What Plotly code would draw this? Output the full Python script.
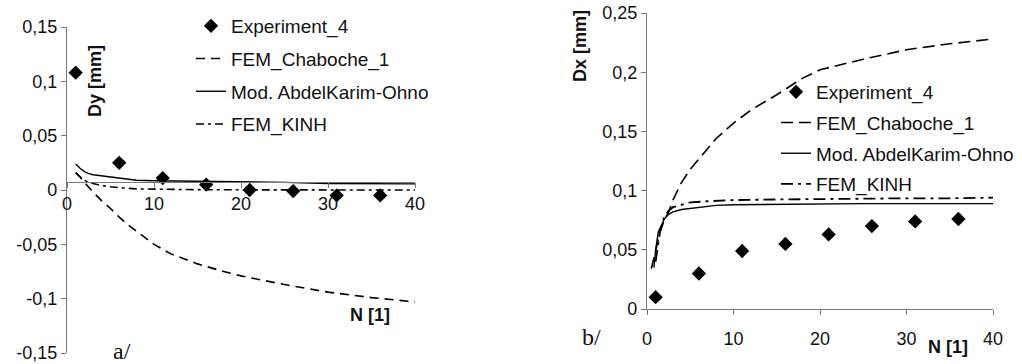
import plotly.graph_objects as go

# ---------------- data ----------------
# left panel (a/): Dy [mm] vs N
exp_n = [1, 6, 11, 16, 21, 26, 31, 36]
exp_dy = [0.108, 0.025, 0.011, 0.005, 0.0, -0.001, -0.005, -0.005]

fem_n = [1, 1.5, 2, 2.5, 3, 4, 5, 6, 7, 8, 10, 12, 15, 18, 20, 25, 30, 35, 40]
chab_dy = [0.016, 0.012, 0.007, 0.002, -0.002, -0.010, -0.017, -0.025, -0.032, -0.038,
           -0.050, -0.059, -0.068, -0.075, -0.079, -0.087, -0.094, -0.099, -0.103]
ako_dy = [0.024, 0.020, 0.017, 0.015, 0.014, 0.013, 0.012, 0.011, 0.0095, 0.009,
          0.0085, 0.0083, 0.008, 0.008, 0.0077, 0.007, 0.006, 0.0058, 0.0056]
kinh_dy = [0.016, 0.012, 0.009, 0.007, 0.006, 0.004, 0.003, 0.002, 0.0015, 0.001,
           0.0007, 0.0005, 0.0003, 0.0002, 0.0001, 0.0, 0.0, 0.0, 0.0]

# right panel (b/): Dx [mm] vs N
exp_dx = [0.010, 0.030, 0.049, 0.055, 0.063, 0.070, 0.074, 0.076]

chab_n = [0.5, 1, 1.5, 2, 2.5, 3, 4, 5, 6, 7, 8, 10, 12, 15, 18, 20, 25, 30, 35, 40]
chab_dx = [0.034, 0.050, 0.065, 0.075, 0.082, 0.092, 0.107, 0.118, 0.127, 0.136, 0.144,
           0.157, 0.168, 0.181, 0.195, 0.202, 0.211, 0.219, 0.224, 0.228]
ako_n = [0.8, 1, 1.3, 1.7, 2, 2.5, 3, 4, 5, 6, 7, 8, 10, 15, 20, 25, 30, 35, 40]
ako_dx = [0.035, 0.050, 0.065, 0.072, 0.076, 0.080, 0.082, 0.084, 0.085, 0.086, 0.087,
          0.0875, 0.088, 0.0885, 0.089, 0.089, 0.089, 0.089, 0.089]
kinh_n = [1, 1.5, 2, 2.5, 3, 4, 5, 7, 10, 15, 20, 25, 30, 35, 40]
kinh_dx = [0.040, 0.065, 0.078, 0.083, 0.086, 0.088, 0.090, 0.091, 0.092, 0.0925,
           0.093, 0.093, 0.0935, 0.0935, 0.094]

x_ticks = [0, 10, 20, 30, 40]
x_ticktext = ["0", "10", "20", "30", "40"]
dy_ticks = [-0.15, -0.1, -0.05, 0, 0.05, 0.1, 0.15]
dy_ticktext = ["-0,15", "-0,1", "-0,05", "0", "0,05", "0,1", "0,15"]
dx_ticks = [0, 0.05, 0.1, 0.15, 0.2, 0.25]
dx_ticktext = ["0", "0,05", "0,1", "0,15", "0,2", "0,25"]

names = ["Experiment_4", "FEM_Chaboche_1", "Mod. AbdelKarim-Ohno", "FEM_KINH"]

# ---------------- figure ----------------
W, H = 1022, 364
FONT = "Liberation Sans, Arial, sans-serif"
AX = "#7a7a7a"

def px(x):
    return x / W

def py(y):
    return 1 - y / H

fig = go.Figure()

# left
fig.add_trace(go.Scatter(x=exp_n, y=exp_dy, mode="markers", name=names[0],
                         marker=dict(symbol="diamond", size=11, color="black"),
                         xaxis="x", yaxis="y", legend="legend", legendgroup="a0"))
fig.add_trace(go.Scatter(x=fem_n, y=chab_dy, mode="lines", name=names[1],
                         line=dict(color="black", width=1.6, dash="9px,6px"),
                         xaxis="x", yaxis="y", legend="legend", legendgroup="a1"))
fig.add_trace(go.Scatter(x=fem_n, y=ako_dy, mode="lines", name=names[2],
                         line=dict(color="black", width=1.4),
                         xaxis="x", yaxis="y", legend="legend", legendgroup="a2"))
fig.add_trace(go.Scatter(x=fem_n, y=kinh_dy, mode="lines", name=names[3],
                         line=dict(color="black", width=1.6, dash="8px,4px,3px,4px"),
                         xaxis="x", yaxis="y", legend="legend", legendgroup="a3"))

# right
fig.add_trace(go.Scatter(x=exp_n, y=exp_dx, mode="markers", name=names[0],
                         marker=dict(symbol="diamond", size=11, color="black"),
                         xaxis="x2", yaxis="y2", legend="legend2", legendgroup="b0"))
fig.add_trace(go.Scatter(x=chab_n, y=chab_dx, mode="lines", name=names[1],
                         line=dict(color="black", width=1.6, dash="12px,6px"),
                         xaxis="x2", yaxis="y2", legend="legend2", legendgroup="b1"))
fig.add_trace(go.Scatter(x=ako_n, y=ako_dx, mode="lines", name=names[2],
                         line=dict(color="black", width=1.4),
                         xaxis="x2", yaxis="y2", legend="legend2", legendgroup="b2"))
fig.add_trace(go.Scatter(x=kinh_n, y=kinh_dx, mode="lines", name=names[3],
                         line=dict(color="black", width=1.8, dash="12px,5px,3px,5px"),
                         xaxis="x2", yaxis="y2", legend="legend2", legendgroup="b3"))

tickfont = dict(family=FONT, size=18, color="#111")
common = dict(showgrid=False, zeroline=False, showline=True, linecolor=AX, linewidth=1.2,
              ticks="outside", ticklen=5, tickcolor=AX, tickfont=tickfont, automargin=False,
              ticklabeloverflow="allow")

legfont = dict(family=FONT, size=19, color="#111")

fig.update_layout(
    width=W, height=H,
    margin=dict(l=0, r=0, t=0, b=0),
    paper_bgcolor="white", plot_bgcolor="white",
    xaxis=dict(domain=[px(67), px(415)], range=[0, 40], anchor="free", position=0.5,
               tickvals=x_ticks, ticktext=x_ticktext, **common),
    yaxis=dict(domain=[py(353), py(27)], range=[-0.15, 0.15], anchor="x",
               tickvals=dy_ticks, ticktext=dy_ticktext, **common),
    xaxis2=dict(domain=[px(647), px(993)], range=[0, 40], anchor="y2",
                tickvals=x_ticks, ticktext=x_ticktext, ticklabelstandoff=8, **common),
    yaxis2=dict(domain=[py(309), py(13)], range=[0, 0.25], anchor="x2",
                tickvals=dx_ticks, ticktext=dx_ticktext, **common),
    legend=dict(x=px(191), y=py(7), xanchor="left", yanchor="top", font=legfont,
                bgcolor="rgba(0,0,0,0)", tracegroupgap=5, traceorder="grouped"),
    legend2=dict(x=px(776), y=py(73), xanchor="left", yanchor="top", font=legfont,
                 bgcolor="rgba(0,0,0,0)", tracegroupgap=3, traceorder="grouped"),
    showlegend=True,
)

bold = dict(family=FONT, size=18, color="#111")
serif = dict(family="Liberation Serif, Times New Roman, serif", size=24, color="#111")
annos = [
    dict(text="<b>Dy [mm]</b>", x=px(95), y=py(81), textangle=-90, font=bold),
    dict(text="<b>N [1]</b>", x=px(370), y=py(315), font=bold),
    dict(text="a/", x=px(122), y=py(351), font=serif),
    dict(text="<b>Dx [mm]</b>", x=px(580), y=py(46), textangle=-90, font=bold),
    dict(text="<b>N [1]</b>", x=px(948), y=py(347), font=bold),
    dict(text="b/", x=px(591), y=py(337), font=serif),
]
for a in annos:
    fig.add_annotation(xref="paper", yref="paper", showarrow=False,
                       xanchor="center", yanchor="middle", **a)

fig.write_html("out.html", config={"displayModeBar": False},
               post_script="document.body.style.margin='0';")
